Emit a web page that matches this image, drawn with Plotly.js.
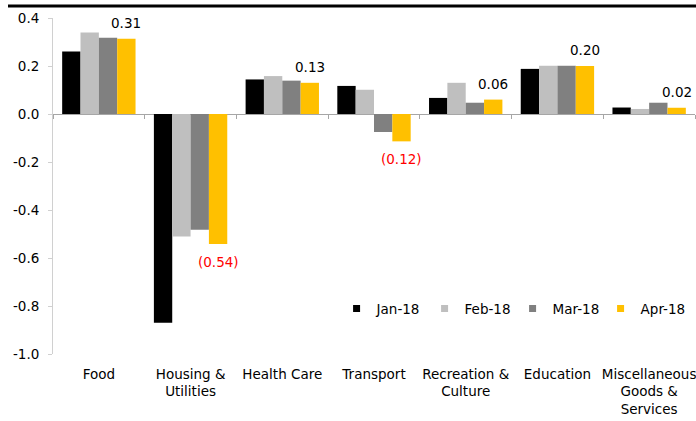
<!DOCTYPE html>
<html>
<head>
<meta charset="utf-8">
<script src="https://cdn.plot.ly/plotly-3.0.1.min.js"></script>
<style>html,body{margin:0;padding:0;background:#fff;}#chart{width:696px;height:421px;}</style>
</head>
<body>
<div id="chart"></div>
<script>
const categories = ['Food', 'Housing &<br>Utilities', 'Health Care', 'Transport', 'Recreation &<br>Culture', 'Education', 'Miscellaneous<br>Goods &<br>Services'];
const seriesNames = ['Jan-18', 'Feb-18', 'Mar-18', 'Apr-18'];
const jan18 = [0.26, -0.87, 0.144, 0.117, 0.067, 0.188, 0.027];
const feb18 = [0.34, -0.51, 0.158, 0.101, 0.13, 0.201, 0.021];
const mar18 = [0.318, -0.482, 0.139, -0.075, 0.047, 0.201, 0.047];
const apr18 = [0.314, -0.542, 0.13, -0.114, 0.06, 0.20, 0.026];
const aprLabels = ['0.31', '(0.54)', '0.13', '(0.12)', '0.06', '0.20', '0.02'];
const yTicks = [0.4, 0.2, 0.0, -0.2, -0.4, -0.6, -0.8, -1.0];

const colors = ['#000000', '#BFBFBF', '#808080', '#FFC000'];
const allSeries = [jan18, feb18, mar18, apr18];
const font = 'DejaVu Sans, Verdana, sans-serif';
const fs = 13.5;

const traces = allSeries.map((vals, i) => ({
  type: 'bar', x: categories, y: vals, name: seriesNames[i],
  marker: {color: colors[i]}, showlegend: false, hoverinfo: 'none'
}));
seriesNames.forEach((n, i) => traces.push({
  type: 'scatter', mode: 'markers', x: [null], y: [null], name: n,
  marker: {symbol: 'square', size: 7, color: colors[i]}, showlegend: true
}));
traces.push({type: 'scatter', x: categories, y: categories.map(() => null), xaxis: 'x2', yaxis: 'y', showlegend: false, hoverinfo: 'none'});

const nCat = categories.length, nSer = allSeries.length, bargap = 0.2;
const barW = (1 - bargap) / nSer;
const annotations = apr18.map((v, i) => ({
  x: i + (-0.5 + bargap / 2 + barW * (nSer - 0.5)), xref: 'x', y: v, yref: 'y',
  text: aprLabels[i], showarrow: false,
  yshift: v >= 0 ? 16 : -18,
  font: {family: font, size: fs, color: v >= 0 ? '#000000' : '#FF0000'}
}));

const layout = {
  width: 696, height: 421,
  margin: {l: 53, r: 1, t: 18, b: 67},
  paper_bgcolor: '#fff', plot_bgcolor: '#fff',
  font: {family: font, size: fs, color: '#000'},
  barmode: 'group', bargap: bargap, bargroupgap: 0,
  xaxis: {
    type: 'category', showgrid: false, zeroline: false, showline: false,
    ticks: '', tickfont: {family: font, size: fs, color: '#000'},
    ticklabelstandoff: 10,
    range: [-0.5, nCat - 0.5], fixedrange: true
  },
  xaxis2: {
    type: 'category', overlaying: 'x', anchor: 'free', position: 240 / 336,
    matches: 'x', showgrid: false, zeroline: false, showline: false,
    showticklabels: false, ticks: 'outside', tickson: 'boundaries', ticklen: 4,
    tickcolor: '#A6A6A6', tickwidth: 1
  },
  yaxis: {
    range: [-1.0, 0.4], tickvals: yTicks, ticktext: yTicks.map(v => v.toFixed(1)),
    showgrid: false, showline: true, linecolor: '#D0D0D0', linewidth: 1,
    ticks: 'outside', ticklen: 4, tickcolor: '#D0D0D0',
    zeroline: true, zerolinecolor: '#A6A6A6', zerolinewidth: 1,
    ticklabelstandoff: 6,
    tickfont: {family: font, size: fs, color: '#000'}, fixedrange: true
  },
  legend: {
    orientation: 'h', x: 0.99, xanchor: 'right', y: 0.135, yanchor: 'middle',
    font: {family: font, size: fs, color: '#000'}, bgcolor: 'rgba(0,0,0,0)',
    itemwidth: 30, traceorder: 'normal', entrywidth: 43, entrywidthmode: 'pixels'
  },
  annotations: annotations,
  shapes: [
    {type: 'line', xref: 'paper', yref: 'paper', x0: (8 - 53) / 642, x1: 1.01, y0: 1 + 12 / 336, y1: 1 + 12 / 336,
     line: {color: '#000', width: 3}}
  ]
};

Plotly.newPlot('chart', traces, layout, {staticPlot: true, displayModeBar: false});
</script>
</body>
</html>
